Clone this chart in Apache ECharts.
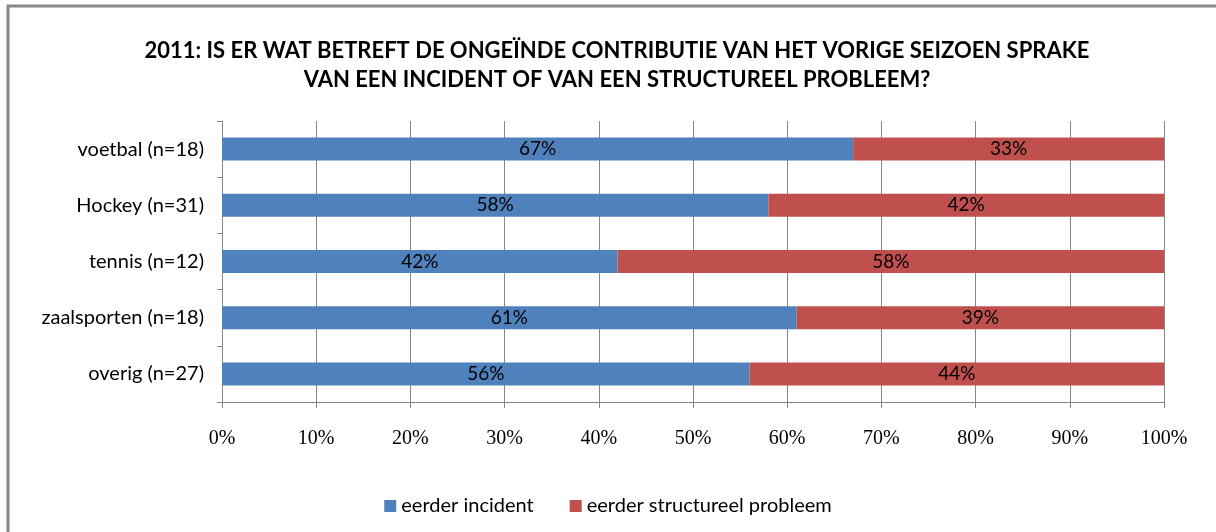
<!DOCTYPE html>
<html>
<head>
<meta charset="utf-8">
<script src="https://cdn.jsdelivr.net/npm/echarts@6/dist/echarts.min.js"></script>
<style>
    html, body { margin: 0; padding: 0; background: #fff; }
    #main { width: 1216px; height: 532px; }
</style>
</head>
<body>
<div id="main"></div>
<script>
var categories = ['voetbal (n=18)', 'Hockey (n=31)', 'tennis (n=12)', 'zaalsporten (n=18)', 'overig (n=27)'];
var incident = [67, 58, 42, 61, 56];
var structureel = [33, 42, 58, 39, 44];
var seriesNames = ['eerder incident', 'eerder structureel probleem'];

var chart = echarts.init(document.getElementById('main'));
var option = {
    backgroundColor: '#fff',
    animation: false,
    title: {
        text: '2011: IS ER WAT BETREFT DE ONGEÏNDE CONTRIBUTIE VAN HET VORIGE SEIZOEN SPRAKE\nVAN EEN INCIDENT OF VAN EEN STRUCTUREEL PROBLEEM?',
        left: 612,
        top: 31,
        textAlign: 'center',
        textStyle: {
            fontFamily: 'Lato',
            fontWeight: 'bold',
            fontSize: 22,
            lineHeight: 29,
            color: '#000'
        }
    },
    graphic: [{
        type: 'rect',
        shape: { x: 8, y: 6, width: 1400, height: 700 },
        style: { fill: 'none', stroke: '#868686', lineWidth: 3 },
        silent: true
    }],
    legend: {
        data: seriesNames,
        left: 'center',
        top: 491,
        icon: 'rect',
        itemWidth: 12,
        itemHeight: 12,
        itemGap: 36,
        textStyle: { fontFamily: 'Lato', fontSize: 20, color: '#000' }
    },
    grid: { left: 222, right: 52, top: 121, bottom: 130 },
    xAxis: {
        type: 'value',
        min: 0,
        max: 100,
        interval: 10,
        axisLine: { show: true, lineStyle: { color: '#868686' } },
        axisTick: { show: true, length: 6, lineStyle: { color: '#868686' } },
        splitLine: { show: true, lineStyle: { color: '#868686', width: 1 } },
        axisLabel: {
            formatter: '{value}%',
            margin: 27,
            fontFamily: 'Liberation Serif',
            fontSize: 20,
            color: '#000'
        }
    },
    yAxis: {
        type: 'category',
        inverse: true,
        data: categories,
        axisLine: { show: true, lineStyle: { color: '#868686' } },
        axisTick: { show: true, length: 5, lineStyle: { color: '#868686' } },
        axisLabel: {
            margin: 18,
            fontFamily: 'Lato',
            fontSize: 20,
            color: '#000'
        }
    },
    series: [
        {
            name: seriesNames[0],
            type: 'bar',
            stack: 'total',
            barCategoryGap: '59%',
            data: incident,
            itemStyle: { color: '#4F81BD' },
            label: {
                show: true,
                position: 'inside',
                formatter: '{c}%',
                fontFamily: 'Lato',
                fontSize: 19,
                color: '#000'
            }
        },
        {
            name: seriesNames[1],
            type: 'bar',
            stack: 'total',
            barCategoryGap: '59%',
            data: structureel,
            itemStyle: { color: '#C0504D' },
            label: {
                show: true,
                position: 'inside',
                formatter: '{c}%',
                fontFamily: 'Lato',
                fontSize: 19,
                color: '#000'
            }
        }
    ]
};
chart.setOption(option);
</script>
</body>
</html>
